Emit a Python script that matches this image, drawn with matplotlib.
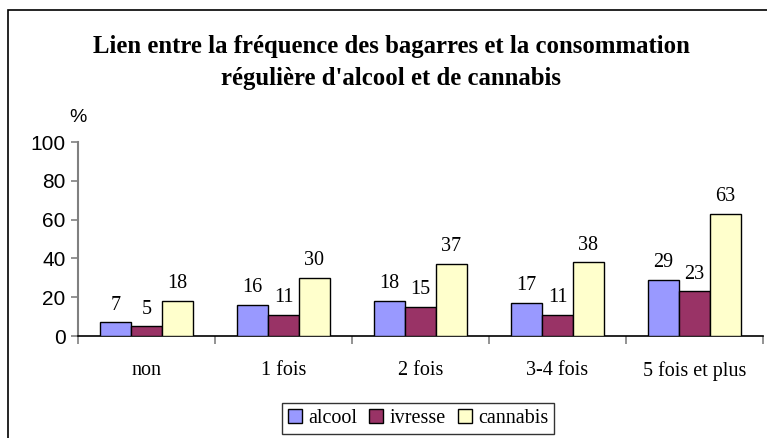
import matplotlib
matplotlib.use("Agg")
import matplotlib.pyplot as plt
import numpy as np
from matplotlib.patches import Rectangle

categories = ["non", "1 fois", "2 fois", "3-4 fois", "5 fois et plus"]
alcool = [7, 16, 18, 17, 29]
ivresse = [5, 11, 15, 11, 23]
cannabis = [18, 30, 37, 38, 63]
series_names = ["alcool", "ivresse", "cannabis"]
colors = ["#9999ff", "#993366", "#ffffcc"]
yticks = [0, 20, 40, 60, 80, 100]

W, H = 767, 438
fig = plt.figure(figsize=(W / 100, H / 100), dpi=100)

# outer chart frame
fig.patches.append(Rectangle((8 / W, -0.1), 1.2, 1.1 - 10 / H, transform=fig.transFigure,
                             fill=False, edgecolor="black", linewidth=1.2, zorder=0))

ax = fig.add_axes([78 / W, 1 - 336 / H, (763 - 78) / W, (336 - 142) / H])

x = np.arange(len(categories))
bw = 0.226
serif = "Liberation Serif"
sans = "Liberation Sans"
for i, (vals, name, c) in enumerate(zip([alcool, ivresse, cannabis], series_names, colors)):
    pos = x + (i - 1) * bw
    ax.bar(pos, vals, width=bw, color=c, edgecolor="black", linewidth=1.0, label=name, zorder=3)
    for p, v in zip(pos, vals):
        ax.text(p, v + 4, str(v), ha="center", va="bottom", fontsize=14.5, family=serif)

ax.set_xlim(-0.5, len(categories) - 0.5)
ax.set_ylim(0, 100)
ax.set_yticks(yticks)
ax.set_yticklabels([str(t) for t in yticks], family=sans, fontsize=15)
ax.set_xticks(np.arange(len(categories) + 1) - 0.5)
ax.set_xticklabels([])
ax.set_xticks(x, minor=True)
ax.set_xticklabels(categories, minor=True, family=serif, fontsize=14.5)
ax.tick_params(axis="x", which="minor", length=0, pad=18)
ax.tick_params(axis="x", which="major", length=6, color="#808080", width=1.2)
ax.tick_params(axis="y", length=5, color="#808080", width=1.2, pad=4)

for s in ["top", "right"]:
    ax.spines[s].set_visible(False)
ax.spines["left"].set_color("#808080")
ax.spines["left"].set_linewidth(1.5)
ax.spines["bottom"].set_color("black")
ax.spines["bottom"].set_linewidth(1.2)

fig.text(78 / W, 1 - 117 / H, "%", family=sans, fontsize=14, ha="center", va="center")

fig.text(391 / W, 1 - 46 / H, "Lien entre la fréquence des bagarres et la consommation",
         family=serif, fontweight="bold", fontsize=17.8, ha="center", va="center")
fig.text(391 / W, 1 - 79 / H, "régulière d'alcool et de cannabis",
         family=serif, fontweight="bold", fontsize=17.8, ha="center", va="center")

leg = fig.legend(loc="upper left", bbox_to_anchor=(282 / W, 1 - 403 / H), ncol=3,
                 prop={"family": serif, "size": 14.5}, frameon=True, fancybox=False,
                 handlelength=0.7, handleheight=0.7, handletextpad=0.3, columnspacing=0.6,
                 borderpad=0.3, borderaxespad=0)
leg.get_frame().set_edgecolor("black")
leg.get_frame().set_linewidth(1.0)

fig.savefig("out.png", dpi=100)
